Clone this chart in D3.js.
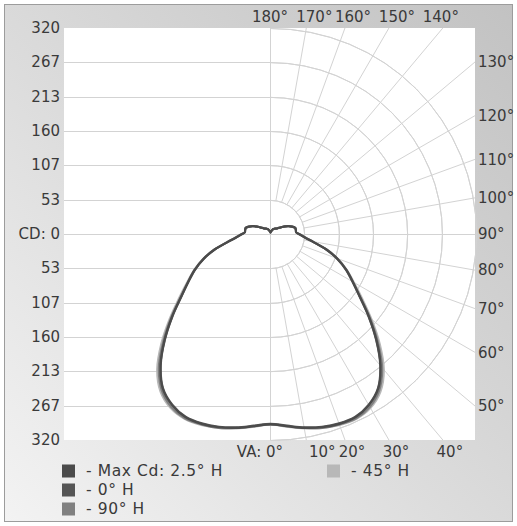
<!DOCTYPE html>
<html>
<head>
<meta charset="utf-8">
<script src="https://cdn.jsdelivr.net/npm/d3@7"></script>
<style>
  html, body { margin: 0; padding: 0; background: #ffffff; }
  svg { display: block; }
  text { font-family: "DejaVu Sans", Verdana, sans-serif; fill: #3a3a3a; }
</style>
</head>
<body>
<svg id="chart" width="517" height="526"></svg>
<script>
// ---------------- DATA ----------------
// vertical angles (degrees, 0 = straight down, 180 = straight up)
const verticalAngles = [0,5,10,15,20,25,30,35,40,45,50,55,60,65,70,75,80,85,90,
                        95,100,105,110,115,120,125,130,135,140,145,150,155,160,165,170,175,180];
// candela values per horizontal plane
const maxCdValues = [295,299,305,310,313,313,306,292,266,233,200,170,148,130,111,90,68,54,46,
                     40,40,40,36,31,25,19,16,13,12,11,10,9,7,6,5,4,3];
const h0Values    = [294,298,304,309,312,312,305,291,265,232,199,169,147,129,110,89,67,53,45,
                     40,40,39,35,30,24,19,15,13,12,11,10,9,7,6,5,4,3];
const h90Values   = [295,299,305,311,314,315,309,295,270,236,202,171,148,130,111,90,68,54,46,
                     40,40,40,36,31,25,19,16,13,12,11,10,9,7,6,5,4,3];
const h45Values   = [295,300,306,311,315,316,311,298,274,240,205,174,150,131,112,91,69,55,46,
                     40,40,40,36,31,25,19,16,13,12,11,10,9,7,6,5,4,3];
const seriesNames = ["- Max Cd: 2.5\u00b0 H", "- 0\u00b0 H", "- 90\u00b0 H", "- 45\u00b0 H"];
const seriesColors = ["#4b4b4b", "#555555", "#808080", "#b8b8b8"];
// axis ticks
const cdTicks = [0, 53, 107, 160, 213, 267, 320];
const angleTicks = [0,10,20,30,40,50,60,70,80,90,100,110,120,130,140,150,160,170,180];

// ---------------- LAYOUT ----------------
const svg = d3.select("#chart");
const W = 517, H = 526;
const box = {x0: 64, x1: 475, y0: 28, y1: 440};
const cx = 270, cy = 234;
const cdMax = 320;

const rScale = d3.scaleLinear().domain([0, cdMax]).range([0, cy - box.y0]);
const yScale = d3.scaleLinear().domain([-cdMax, cdMax]).range([box.y1, box.y0]);

// background gradient
const defs = svg.append("defs");
const grad = defs.append("linearGradient").attr("id", "bg")
  .attr("x1", "0%").attr("y1", "100%").attr("x2", "100%").attr("y2", "0%");
grad.append("stop").attr("offset", "0%").attr("stop-color", "#f3f3f3");
grad.append("stop").attr("offset", "45%").attr("stop-color", "#dcdcdc");
grad.append("stop").attr("offset", "100%").attr("stop-color", "#c2c2c2");

svg.append("rect").attr("x", 0).attr("y", 0).attr("width", W).attr("height", H).attr("fill", "#ffffff");
svg.append("rect").attr("x", 4.5).attr("y", 4.5).attr("width", W - 9).attr("height", H - 9)
  .attr("fill", "url(#bg)").attr("stroke", "#9c9c9c").attr("stroke-width", 1);

// plot area
svg.append("rect").attr("x", box.x0).attr("y", box.y0)
  .attr("width", box.x1 - box.x0).attr("height", box.y1 - box.y0).attr("fill", "#ffffff");

const gridColor = "#d3d3d3";
const grid = svg.append("g").attr("stroke", gridColor).attr("stroke-width", 1).attr("fill", "none");

// horizontal lines on the left half
const signedTicks = cdTicks.slice(1, -1).flatMap(v => [v, -v]);
grid.selectAll("line.h").data(signedTicks).join("line")
  .attr("x1", box.x0).attr("x2", cx)
  .attr("y1", d => Math.round(yScale(d)) + 0.5).attr("y2", d => Math.round(yScale(d)) + 0.5);

// center cross
grid.append("line").attr("x1", box.x0).attr("x2", box.x1).attr("y1", cy + 0.5).attr("y2", cy + 0.5);
grid.append("line").attr("x1", cx + 0.5).attr("x2", cx + 0.5).attr("y1", box.y0).attr("y2", box.y1);

// arcs on the right half
const arcGen = d3.arc().startAngle(0).endAngle(Math.PI);
grid.selectAll("path.arc").data(cdTicks.slice(1)).join("path")
  .attr("transform", `translate(${cx + 0.5},${cy + 0.5})`)
  .attr("d", d => arcGen({innerRadius: rScale(d), outerRadius: rScale(d)}));

// rays to box edge
function rayEnd(va) {
  const a = va * Math.PI / 180;
  const dx = Math.sin(a), dy = Math.cos(a);
  let t = Infinity;
  if (dx > 1e-9) t = Math.min(t, (box.x1 - cx) / dx);
  if (dy > 1e-9) t = Math.min(t, (box.y1 - cy) / dy);
  if (dy < -1e-9) t = Math.min(t, (box.y0 - cy) / dy);
  return [cx + dx * t, cy + dy * t];
}
const innerR = rScale(cdTicks[1]);
const rays = angleTicks.filter(a => a !== 0 && a !== 90 && a !== 180);
grid.selectAll("line.ray").data(rays).join("line")
  .attr("x1", d => cx + d3.pointRadial(Math.PI - d * Math.PI / 180, innerR)[0])
  .attr("y1", d => cy + d3.pointRadial(Math.PI - d * Math.PI / 180, innerR)[1])
  .attr("x2", d => rayEnd(d)[0])
  .attr("y2", d => rayEnd(d)[1]);

// ---------------- LABELS ----------------
const fs = 15;
// left CD labels
const leftAxis = d3.axisLeft(yScale)
  .tickValues(cdTicks.slice().reverse().concat(cdTicks.slice(1).map(v => -v)))
  .tickSize(0).tickPadding(4)
  .tickFormat(d => d === 0 ? "CD: 0" : String(Math.abs(d)));
const la = svg.append("g").attr("transform", `translate(${box.x0},0)`).call(leftAxis);
la.select(".domain").remove();
la.selectAll("text").attr("font-size", fs).attr("font-family", "DejaVu Sans").attr("fill", "#3a3a3a");

// angle labels
const angleLabels = svg.append("g").attr("font-size", fs);
const bottomY = box.y1 + 12;
angleTicks.forEach(a => {
  const [ex, ey] = rayEnd(a);
  const label = a + "\u00b0";
  if (a === 0) {
    angleLabels.append("text").attr("x", cx + 13).attr("y", bottomY)
      .attr("dy", "0.35em").attr("text-anchor", "end").text("VA: " + label);
  } else if (Math.abs(ey - box.y1) < 0.5) {
    angleLabels.append("text").attr("x", ex + (a === 10 ? 16 : 7)).attr("y", bottomY)
      .attr("dy", "0.35em").attr("text-anchor", "middle").text(label);
  } else if (Math.abs(ey - box.y0) < 0.5) {
    angleLabels.append("text").attr("x", ex + (a === 180 ? 0 : (a === 140 ? -2 : 8))).attr("y", box.y0 - 11)
      .attr("dy", "0.35em").attr("text-anchor", "middle").text(label);
  } else {
    angleLabels.append("text").attr("x", box.x1 + 3).attr("y", ey)
      .attr("dy", "0.35em").attr("text-anchor", "start").text(label);
  }
});

// ---------------- CURVES ----------------
const allSeries = [maxCdValues, h0Values, h90Values, h45Values];
const toAngle = (va, side) => side > 0 ? Math.PI - va * Math.PI / 180 : Math.PI + va * Math.PI / 180;
const radial = d3.lineRadial()
  .angle(d => d.angle).radius(d => rScale(d.cd))
  .curve(d3.curveCatmullRomClosed.alpha(0.5));

const curveG = svg.append("g").attr("transform", `translate(${cx + 0.5},${cy + 0.5})`);
const drawOrder = [3, 2, 1, 0];
drawOrder.forEach(i => {
  const vals = allSeries[i];
  const right = verticalAngles.map((va, j) => ({angle: toAngle(va, 1), cd: vals[j]}));
  const left = verticalAngles.slice(1, -1).reverse().map(va => {
    const j = verticalAngles.indexOf(va);
    return {angle: toAngle(va, -1), cd: vals[j]};
  });
  curveG.append("path").datum(right.concat(left))
    .attr("d", radial).attr("fill", "none")
    .attr("stroke", seriesColors[i]).attr("stroke-width", i === 0 ? 2.2 : 2)
    .attr("stroke-linejoin", "round");
});

// ---------------- LEGEND ----------------
const legend = svg.append("g").attr("font-size", 15.5).attr("letter-spacing", "0.6px");
const legendPos = [[62, 471], [62, 490], [62, 509], [327, 471]];
seriesNames.forEach((name, i) => {
  const [lx, ly] = legendPos[i];
  legend.append("rect").attr("x", lx).attr("y", ly - 6.5).attr("width", 13).attr("height", 13)
    .attr("fill", seriesColors[i]);
  legend.append("text").attr("x", lx + 24).attr("y", ly).attr("dy", "0.35em").text(name);
});
</script>
</body>
</html>
